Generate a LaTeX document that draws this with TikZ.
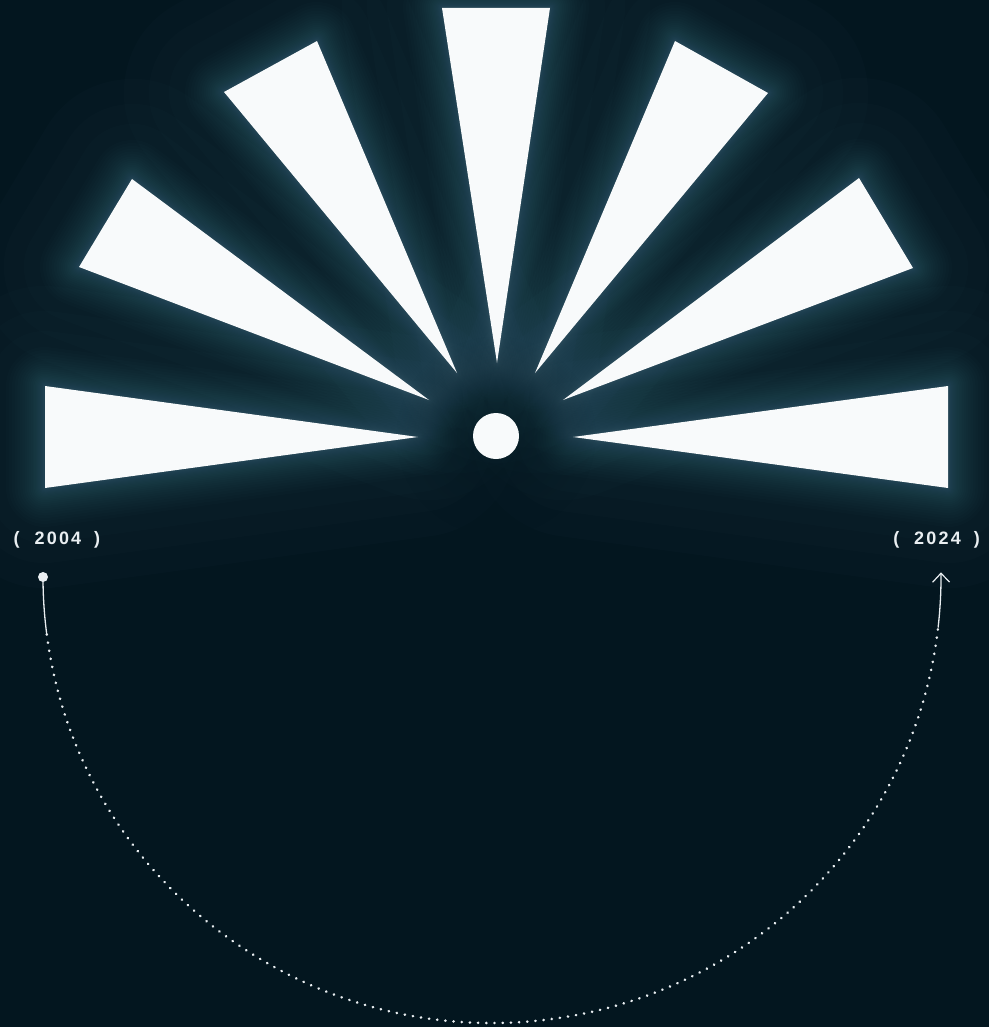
\documentclass[tikz,border=0pt]{standalone}
\usepackage{fontspec}
\newfontfamily\lblfont[LetterSpace=12]{Liberation Sans Bold}
\usetikzlibrary{arrows.meta,fadings}
\definecolor{bg}{HTML}{03161F}
\definecolor{glow}{HTML}{5A8AA0}
\definecolor{ray}{HTML}{F8FAFB}
\definecolor{ink}{HTML}{E9EEF1}
\tikzfading[name=corefade, inner color=transparent!0, outer color=transparent!100]
\newcommand\raypaths[1]{%
  \path[#1] (45,386) -- (45,488) -- (418,437) -- cycle;
  \path[#1] (132,179) -- (79,267) -- (429,400) -- cycle;
  \path[#1] (224,92) -- (317,41) -- (457,373) -- cycle;
  \path[#1] (442,8) -- (550,8) -- (497,363) -- cycle;
  \path[#1] (675,41) -- (768,93) -- (535,373) -- cycle;
  \path[#1] (859,178) -- (913,268) -- (563,400) -- cycle;
  \path[#1] (948,386) -- (948,488) -- (573,437) -- cycle;
}
\begin{document}
\begin{tikzpicture}[x=1pt,y=-1pt,
  glowstroke/.style={draw=glow, line join=round},
  lbl/.style={text=ink, font=\lblfont\fontsize{18}{20}\selectfont, inner sep=0pt},
  dotnode/.style={circle, fill=ink, inner sep=0pt, minimum size=10pt},
  trail/.style={draw=ink, line width=1.3pt},
  dottrail/.style={draw=ink, line width=2.7pt, line cap=round, dash pattern=on 0.2pt off 8pt}
]
\fill[bg] (0,0) rectangle (989,1027);
\useasboundingbox (0,0) rectangle (989,1027);
% broad faint halo
\foreach \w in {200,150,110}{
  \raypaths{glowstroke, line width=\w pt, opacity=0.025}
}
% glow
\foreach \i in {1,...,24}{
  \pgfmathsetmacro\w{3+0.13*\i*\i}
  \raypaths{glowstroke, line width=\w pt, opacity=0.022}
}
% darker core round the centre
\fill[bg, path fading=corefade, opacity=0.7] (496,436) circle[radius=100];
% rays
\raypaths{fill=ray}
\fill[ray] (496,436) circle[radius=23];
% labels
\node[lbl] (y2004) at (57,540) {(\hspace{15pt}2004\hspace{13pt})};
\node[lbl] (y2024) at (936.5,540) {(\hspace{15pt}2024\hspace{13pt})};
% timeline
\node[dotnode] (start) at (43,577) {};
\coordinate (c) at (492,577);
\draw[trail] (start.center) arc[start angle=180, end angle=172.6, x radius=449, y radius=446] coordinate (a1);
\draw[dottrail] (a1) arc[start angle=172.6, end angle=6.5, x radius=449, y radius=446] coordinate (a2);
\draw[trail, -{Straight Barb[length=9pt,width=17pt,line width=1.2pt]}] (a2) arc[start angle=6.5, end angle=-0.6, x radius=449, y radius=446] coordinate (end);
\end{tikzpicture}
\end{document}
